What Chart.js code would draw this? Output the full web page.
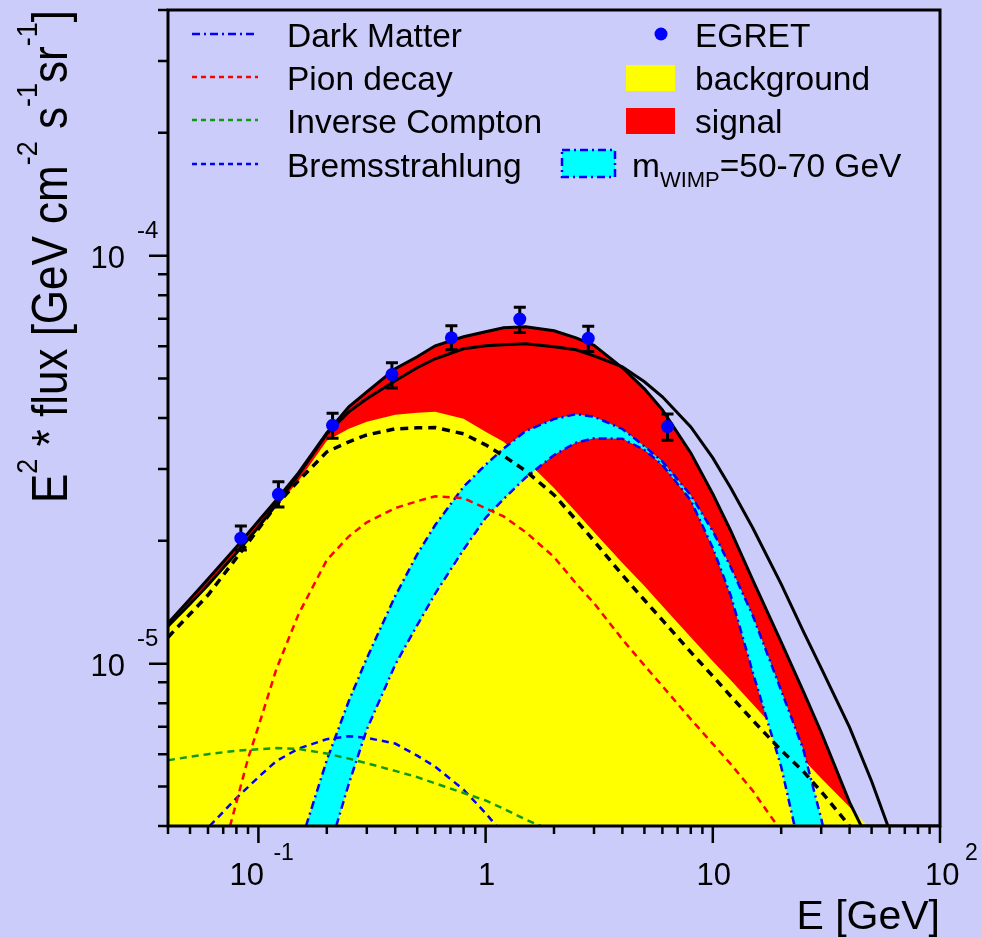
<!DOCTYPE html>
<html>
<head>
<meta charset="utf-8">
<script src="https://cdn.jsdelivr.net/npm/chart.js@4.4.0/dist/chart.umd.min.js"></script>
<style>
  html, body { margin: 0; padding: 0; background: #ccccfa; }
  #wrap { width: 982px; height: 938px; }
</style>
</head>
<body>
<div id="wrap"><canvas id="chart" width="982" height="938"></canvas></div>
<script>
// EGRET data: bin centres (GeV), E^2 * flux and error bar ends
const egretE = [0.0837, 0.1225, 0.212, 0.387, 0.707, 1.414, 2.83, 6.32];
const egretFlux = [2.03e-5, 2.60e-5, 3.84e-5, 5.11e-5, 6.29e-5, 6.99e-5, 6.27e-5, 3.81e-5];
const egretHigh = [2.175e-5, 2.79e-5, 4.11e-5, 5.46e-5, 6.73e-5, 7.47e-5, 6.71e-5, 4.09e-5];
const egretLow = [1.90e-5, 2.42e-5, 3.57e-5, 4.74e-5, 5.88e-5, 6.48e-5, 5.82e-5, 3.53e-5];

// common energy grid (GeV)
const gridE = [0.04, 0.05, 0.06, 0.08, 0.1, 0.12, 0.15, 0.2, 0.25, 0.3, 0.4, 0.5, 0.6, 0.8, 1,
  1.2, 1.5, 2, 2.5, 3, 4, 5, 6, 8, 10, 12, 15, 20, 25, 30, 40];

// total fit (background + signal), upper solid line
const totalE = gridE.concat([45, 100]);
const totalFlux = [1.257e-5, 1.440e-5, 1.612e-5, 1.931e-5, 2.237e-5, 2.518e-5, 2.934e-5, 3.678e-5,
  4.261e-5, 4.637e-5, 5.281e-5, 5.652e-5, 6.013e-5, 6.326e-5, 6.508e-5, 6.657e-5, 6.695e-5,
  6.546e-5, 6.290e-5, 6.030e-5, 5.311e-5, 4.716e-5, 4.189e-5, 3.285e-5, 2.606e-5, 2.114e-5,
  1.603e-5, 1.129e-5, 8.56e-6, 6.79e-6, 4.57e-6, 4.0e-6, 4.0e-6];

// second solid line
const altE = gridE.concat([50, 59]);
const altFlux = [1.236e-5, 1.400e-5, 1.558e-5, 1.867e-5, 2.163e-5, 2.462e-5, 2.901e-5, 3.658e-5,
  4.142e-5, 4.457e-5, 4.935e-5, 5.311e-5, 5.588e-5, 5.911e-5, 6.013e-5, 6.047e-5, 6.081e-5,
  5.978e-5, 5.877e-5, 5.680e-5, 5.341e-5, 4.907e-5, 4.508e-5, 3.805e-5, 3.193e-5, 2.696e-5,
  2.150e-5, 1.567e-5, 1.202e-5, 9.75e-6, 6.98e-6, 5.15e-6, 4.0e-6];

// background (yellow area)
const bkgE = gridE.concat([48]);
const bkgFlux = [1.229e-5, 1.392e-5, 1.549e-5, 1.857e-5, 2.138e-5, 2.421e-5, 2.805e-5, 3.516e-5,
  3.762e-5, 3.914e-5, 4.072e-5, 4.118e-5, 4.142e-5, 3.981e-5, 3.699e-5, 3.496e-5, 3.158e-5,
  2.696e-5, 2.353e-5, 2.102e-5, 1.764e-5, 1.549e-5, 1.384e-5, 1.161e-5, 1.014e-5, 9.11e-6,
  7.95e-6, 6.68e-6, 5.83e-6, 5.24e-6, 4.45e-6, 4.0e-6];

// conventional background sum (black dashed)
const sumE = gridE;
const sumFlux = [1.161e-5, 1.323e-5, 1.473e-5, 1.815e-5, 2.138e-5, 2.449e-5, 2.805e-5, 3.304e-5,
  3.496e-5, 3.637e-5, 3.762e-5, 3.784e-5, 3.79e-5, 3.658e-5, 3.437e-5, 3.230e-5, 2.968e-5,
  2.592e-5, 2.250e-5, 1.998e-5, 1.649e-5, 1.432e-5, 1.278e-5, 1.067e-5, 9.32e-6, 8.32e-6,
  7.26e-6, 6.13e-6, 5.45e-6, 4.86e-6, 4.0e-6];

// pion decay
const pionE = [0.075, 0.08, 0.09, 0.1, 0.12, 0.15, 0.2, 0.25, 0.3, 0.4, 0.5, 0.6, 0.8, 1, 1.2, 1.5,
  2, 2.5, 3, 4, 5, 6, 8, 10, 12, 15, 18, 19.3];
const pionFlux = [4.0e-6, 4.57e-6, 5.85e-6, 7.01e-6, 9.70e-6, 1.320e-5, 1.795e-5, 2.051e-5, 2.220e-5,
  2.406e-5, 2.501e-5, 2.571e-5, 2.545e-5, 2.404e-5, 2.295e-5, 2.102e-5, 1.825e-5, 1.573e-5,
  1.407e-5, 1.147e-5, 9.90e-6, 8.81e-6, 7.31e-6, 6.36e-6, 5.67e-6, 4.88e-6, 4.22e-6, 4.0e-6];

// inverse Compton
const icE = [0.04, 0.05, 0.06, 0.08, 0.1, 0.12, 0.15, 0.2, 0.25, 0.3, 0.4, 0.5, 0.6, 0.8, 1, 1.2, 1.5, 1.75];
const icFlux = [5.80e-6, 5.91e-6, 6.00e-6, 6.12e-6, 6.17e-6, 6.21e-6, 6.18e-6, 6.02e-6, 5.85e-6,
  5.70e-6, 5.46e-6, 5.27e-6, 5.09e-6, 4.82e-6, 4.62e-6, 4.41e-6, 4.15e-6, 4.0e-6];

// bremsstrahlung
const bremE = [0.061, 0.08, 0.1, 0.12, 0.15, 0.2, 0.25, 0.3, 0.4, 0.5, 0.6, 0.8, 1, 1.116];
const bremFlux = [4.0e-6, 4.68e-6, 5.27e-6, 5.77e-6, 6.19e-6, 6.53e-6, 6.64e-6, 6.58e-6, 6.37e-6,
  5.95e-6, 5.59e-6, 4.91e-6, 4.30e-6, 4.0e-6];

// dark matter band, outer and inner edge
const dmHighE = [0.162, 0.2, 0.25, 0.3, 0.4, 0.5, 0.6, 0.8, 1, 1.2, 1.5, 2, 2.5, 3, 4, 5, 6, 8, 10,
  12, 15, 20, 25, 30, 30.5];
const dmHighFlux = [4.0e-6, 5.80e-6, 8.10e-6, 1.031e-5, 1.464e-5, 1.854e-5, 2.187e-5, 2.714e-5,
  3.073e-5, 3.368e-5, 3.714e-5, 3.976e-5, 4.088e-5, 4.029e-5, 3.760e-5, 3.410e-5, 3.128e-5,
  2.588e-5, 2.112e-5, 1.723e-5, 1.310e-5, 8.59e-6, 6.17e-6, 4.17e-6, 4.0e-6];
const dmLowE = [0.22, 0.25, 0.3, 0.4, 0.5, 0.6, 0.8, 1, 1.2, 1.5, 2, 2.5, 3, 4, 5, 6, 8, 10, 12, 15, 20, 22.9];
const dmLowFlux = [4.0e-6, 5.08e-6, 6.90e-6, 9.94e-6, 1.243e-5, 1.485e-5, 1.905e-5, 2.277e-5,
  2.532e-5, 2.859e-5, 3.246e-5, 3.482e-5, 3.566e-5, 3.558e-5, 3.342e-5, 3.070e-5, 2.513e-5,
  1.920e-5, 1.467e-5, 9.51e-6, 5.59e-6, 4.0e-6];

// axis tick labels
const xTickValues = [0.1, 1, 10, 100];
const xTickBase = ['10', '1', '10', '10'];
const xTickExp = ['-1', '', '', '2'];
const yTickValues = [1e-5, 1e-4];
const yTickExp = ['-5', '-4'];

const FONT = '"Liberation Sans", Arial, Helvetica, sans-serif';
const BG = '#ccccfa';

const toPts = (xs, ys) => xs.map((x, i) => ({ x: x, y: ys[i] }));

function curve(data, color, width, dash, order) {
  return {
    data: data,
    showLine: true,
    borderColor: color,
    borderWidth: width,
    borderDash: dash,
    pointRadius: 0,
    fill: false,
    order: order
  };
}

function area(data, color, fill, order) {
  return {
    data: data,
    showLine: true,
    borderWidth: 0,
    borderColor: 'rgba(0,0,0,0)',
    backgroundColor: color,
    pointRadius: 0,
    fill: fill,
    order: order
  };
}

const bandPts = toPts(dmHighE, dmHighFlux).concat(toPts(dmLowE, dmLowFlux).reverse());
const dashDot = [8, 4, 2, 4];

const datasets = [
  area(toPts(totalE, totalFlux), '#ff0000', 'start', 20),
  area(toPts(bkgE, bkgFlux), '#ffff00', 'start', 19),
  area(bandPts, '#00ffff', 'shape', 18),
  curve(toPts(dmHighE, dmHighFlux), '#0000ff', 2.5, dashDot, 15),
  curve(toPts(dmLowE, dmLowFlux), '#0000ff', 2.5, dashDot, 15),
  curve(toPts(pionE, pionFlux), '#ff0000', 2.5, [7, 5], 14),
  curve(toPts(icE, icFlux), '#129912', 2.5, [7, 5], 14),
  curve(toPts(bremE, bremFlux), '#0000ff', 2.5, [7, 5], 14),
  curve(toPts(sumE, sumFlux), '#000000', 3.5, [8, 6], 12),
  curve(toPts(altE, altFlux), '#000000', 3, [], 11),
  curve(toPts(totalE, totalFlux), '#000000', 3, [], 10),
  {
    data: toPts(egretE, egretFlux),
    showLine: false,
    pointRadius: 6.5,
    pointBackgroundColor: '#0000ff',
    pointBorderWidth: 0,
    order: 1
  }
];
const EGRET_INDEX = 11;

function richText(ctx, parts, x, y, size, supSize, raise) {
  let cx = x;
  parts.forEach(([t, sup]) => {
    ctx.font = (sup ? supSize : size) + 'px ' + FONT;
    ctx.fillText(t, cx, sup ? y - raise : y);
    cx += ctx.measureText(t).width;
  });
  return cx;
}

const framePlugin = {
  id: 'frame',
  beforeDraw(chart) {
    const ctx = chart.ctx;
    ctx.save();
    ctx.fillStyle = BG;
    ctx.fillRect(0, 0, chart.width, chart.height);
    ctx.restore();
  },
  beforeDatasetDraw(chart, args) {
    if (args.index !== EGRET_INDEX) return;
    const { ctx, scales: { x, y } } = chart;
    ctx.save();
    ctx.strokeStyle = '#000';
    ctx.lineWidth = 3;
    egretE.forEach((e, i) => {
      const px = x.getPixelForValue(e);
      const top = y.getPixelForValue(egretHigh[i]);
      const bot = y.getPixelForValue(egretLow[i]);
      ctx.beginPath();
      ctx.moveTo(px, top); ctx.lineTo(px, bot);
      ctx.moveTo(px - 6, top); ctx.lineTo(px + 6, top);
      ctx.moveTo(px - 6, bot); ctx.lineTo(px + 6, bot);
      ctx.stroke();
    });
    ctx.restore();
  },
  afterDraw(chart) {
    const { ctx, chartArea: a, scales: { x, y } } = chart;
    ctx.save();
    ctx.strokeStyle = '#000';
    ctx.fillStyle = '#000';
    ctx.lineWidth = 3;
    ctx.strokeRect(a.left, a.top, a.right - a.left, a.bottom - a.top);

    // ticks
    ctx.lineWidth = 2.5;
    ctx.beginPath();
    for (let n = -2; n <= 2; n++) {
      for (let k = 1; k <= 9; k++) {
        const v = k * Math.pow(10, n);
        if (v < x.min * 0.999 || v > x.max * 1.001) continue;
        const px = x.getPixelForValue(v);
        ctx.moveTo(px, a.bottom);
        ctx.lineTo(px, a.bottom + (k === 1 ? 17 : 8));
      }
    }
    for (let n = -6; n <= -4; n++) {
      for (let k = 1; k <= 9; k++) {
        const v = k * Math.pow(10, n);
        if (v < y.min * 0.999 || v > y.max * 1.001) continue;
        const py = y.getPixelForValue(v);
        ctx.moveTo(a.left, py);
        ctx.lineTo(a.left - (k === 1 ? 19 : 10), py);
      }
    }
    ctx.stroke();

    // x tick labels
    ctx.textBaseline = 'alphabetic';
    xTickValues.forEach((v, i) => {
      const px = x.getPixelForValue(v);
      ctx.font = '31px ' + FONT;
      if (xTickExp[i]) {
        const left = i === 0 ? px - 29 : px - 15;
        ctx.textAlign = 'left';
        ctx.fillText(xTickBase[i], left, 885);
        ctx.font = '23px ' + FONT;
        ctx.fillText(xTickExp[i], i === 0 ? px + 15 : px + 25, 860);
      } else {
        ctx.textAlign = 'center';
        ctx.fillText(xTickBase[i], px + 1, 885);
      }
    });

    // y tick labels
    yTickValues.forEach((v, i) => {
      const py = y.getPixelForValue(v);
      ctx.font = '31px ' + FONT;
      ctx.textAlign = 'right';
      ctx.fillText('10', 125, py + 12);
      ctx.font = '24px ' + FONT;
      ctx.textAlign = 'left';
      ctx.fillText(yTickExp[i], 137, py - 18);
    });

    // axis titles
    ctx.font = '41px ' + FONT;
    ctx.textAlign = 'right';
    ctx.fillText('E [GeV]', a.right, 929);

    ctx.save();
    ctx.translate(67, 503);
    ctx.rotate(-Math.PI / 2);
    ctx.scale(1, 1.12);
    ctx.textAlign = 'left';
    richText(ctx, [['E', false], ['2', true], [' * flux [GeV cm', false], ['-2', true],
      [' s', false], ['-1', true], ['sr', false], ['-1', true], [']', false]], 0, 0, 44, 27, 27);
    ctx.restore();

    // legend
    ctx.textAlign = 'left';
    const rows = [47, 90, 133, 177];
    const samples = [
      ['#0000ff', dashDot, 'Dark Matter'],
      ['#ff0000', [5, 4], 'Pion decay'],
      ['#129912', [5, 4], 'Inverse Compton'],
      ['#0000ff', [5, 4], 'Bremsstrahlung']
    ];
    samples.forEach(([c, dash, label], i) => {
      ctx.save();
      ctx.strokeStyle = c;
      ctx.lineWidth = 2.5;
      ctx.setLineDash(dash);
      ctx.beginPath();
      ctx.moveTo(192, rows[i] - 13);
      ctx.lineTo(258, rows[i] - 13);
      ctx.stroke();
      ctx.restore();
      ctx.font = '33.5px ' + FONT;
      ctx.fillText(label, 287, rows[i]);
    });

    ctx.fillStyle = '#0000ff';
    ctx.beginPath();
    ctx.arc(661, 34, 6.5, 0, Math.PI * 2);
    ctx.fill();
    ctx.fillStyle = '#ffff00';
    ctx.fillRect(626, 65, 49, 26);
    ctx.fillStyle = '#ff0000';
    ctx.fillRect(626, 108, 49, 26);
    ctx.fillStyle = '#00ffff';
    ctx.fillRect(562, 150, 53, 27);
    ctx.save();
    ctx.strokeStyle = '#0000ff';
    ctx.lineWidth = 2.5;
    ctx.setLineDash(dashDot);
    ctx.strokeRect(562, 150, 53, 27);
    ctx.restore();

    ctx.fillStyle = '#000';
    ctx.font = '33.5px ' + FONT;
    ctx.fillText('EGRET', 695, rows[0]);
    ctx.fillText('background', 695, rows[1]);
    ctx.fillText('signal', 695, rows[2]);
    let cx = 632;
    ctx.fillText('m', cx, rows[3]);
    cx += ctx.measureText('m').width;
    ctx.font = '22px ' + FONT;
    ctx.fillText('WIMP', cx, rows[3] + 10);
    cx += ctx.measureText('WIMP').width;
    ctx.font = '33.5px ' + FONT;
    ctx.fillText('=50-70 GeV', cx, rows[3]);
    ctx.restore();
  }
};

new Chart(document.getElementById('chart'), {
  type: 'scatter',
  data: { datasets: datasets },
  options: {
    responsive: false,
    animation: false,
    events: [],
    layout: { padding: { left: 168, right: 42, top: 10, bottom: 112 } },
    elements: { line: { tension: 0 } },
    plugins: { legend: { display: false }, tooltip: { enabled: false } },
    scales: {
      x: { type: 'logarithmic', min: 0.04, max: 100, display: false },
      y: { type: 'logarithmic', min: 4e-6, max: 4e-4, display: false }
    }
  },
  plugins: [framePlugin]
});
</script>
</body>
</html>
